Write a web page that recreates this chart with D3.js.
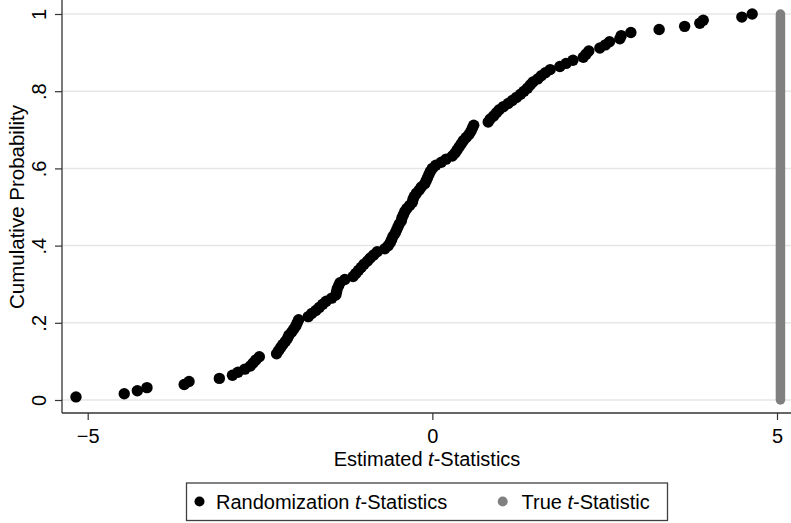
<!DOCTYPE html>
<html><head><meta charset="utf-8">
<script src="https://cdn.jsdelivr.net/npm/d3@7"></script>
<style>
html,body{margin:0;padding:0;background:#fff;}
svg{display:block;font-family:"Liberation Sans",Arial,Helvetica,sans-serif;}
</style></head>
<body><svg id="c" width="791" height="523"></svg>
<script>
// Randomization t-statistics (sorted)
const randT = [
-5.17,-4.47,-4.28,-4.14,-3.60,-3.53,-3.09,-2.90,-2.82,-2.72,
-2.64,-2.60,-2.56,-2.51,-2.26,-2.23,-2.20,-2.17,-2.13,-2.10,
-2.08,-2.04,-2.01,-1.98,-1.96,-1.94,-1.80,-1.75,-1.69,-1.64,
-1.59,-1.54,-1.46,-1.40,-1.39,-1.38,-1.36,-1.34,-1.27,-1.15,
-1.11,-1.07,-1.03,-0.99,-0.94,-0.90,-0.85,-0.80,-0.69,-0.64,
-0.61,-0.59,-0.57,-0.54,-0.52,-0.50,-0.48,-0.45,-0.44,-0.42,
-0.40,-0.37,-0.33,-0.29,-0.28,-0.26,-0.23,-0.19,-0.16,-0.11,
-0.09,-0.07,-0.05,-0.03,0.00,0.05,0.13,0.20,0.29,0.33,
0.36,0.39,0.42,0.45,0.49,0.53,0.56,0.58,0.60,0.81,
0.84,0.89,0.93,0.97,1.03,1.10,1.16,1.22,1.28,1.33,
1.38,1.42,1.46,1.53,1.58,1.64,1.71,1.85,1.94,2.04,
2.19,2.23,2.27,2.43,2.51,2.57,2.72,2.74,2.88,3.29,
3.66,3.88,3.93,4.49,4.64
];
const trueT = 5.05;
const trueRange = [0, 1];
const xTickVals = [-5, 0, 5];
const xTickLabels = ["\u22125", "0", "5"];
const yTickVals = [0, 0.2, 0.4, 0.6, 0.8, 1];
const yTickLabels = ["0", ".2", ".4", ".6", ".8", "1"];
const legendLabels = [["Randomization ", "t", "-Statistics"], ["True ", "t", "-Statistic"]];
const colors = ["#000000", "#808080"];

const svg = d3.select("#c");
const axisX = 62, axisY = 413;
const x = d3.scaleLinear().domain([-5, 5]).range([87.7, 777]);
const y = d3.scaleLinear().domain([0, 1]).range([400, 14]);

// gridlines
svg.append("g").selectAll("line").data(yTickVals).join("line")
  .attr("x1", axisX).attr("x2", 791)
  .attr("y1", d => y(d)).attr("y2", d => y(d))
  .attr("stroke", "#e6e6e6").attr("stroke-width", 1.5);

// y axis
const yAx = svg.append("g").attr("transform", `translate(${axisX},0)`)
  .call(d3.axisLeft(y).tickValues(yTickVals).tickSize(7).tickFormat((d, i) => yTickLabels[i]));
yAx.select(".domain").remove();
yAx.selectAll(".tick line").attr("stroke", "#333").attr("stroke-width", 1.2);
yAx.selectAll(".tick text")
  .attr("x", 0).attr("y", -16).attr("dy", 0)
  .attr("transform", "rotate(-90)")
  .attr("text-anchor", "middle")
  .attr("font-size", 20).attr("fill", "#000")
  .style("font-family", "'Liberation Sans',Arial,sans-serif");
svg.append("line").attr("x1", axisX).attr("x2", axisX).attr("y1", 0).attr("y2", axisY)
  .attr("stroke", "#333").attr("stroke-width", 1.3);

// x axis
const xAx = svg.append("g").attr("transform", `translate(0,${axisY})`)
  .call(d3.axisBottom(x).tickValues(xTickVals).tickSize(7).tickFormat((d, i) => xTickLabels[i]));
xAx.select(".domain").remove();
xAx.selectAll(".tick line").attr("stroke", "#333").attr("stroke-width", 1.2);
xAx.selectAll(".tick text").attr("y", 30).attr("dy", 0)
  .attr("font-size", 20).attr("fill", "#000")
  .style("font-family", "'Liberation Sans',Arial,sans-serif");
svg.append("line").attr("x1", axisX).attr("x2", 791).attr("y1", axisY).attr("y2", axisY)
  .attr("stroke", "#333").attr("stroke-width", 1.3);

// axis titles
const xt = svg.append("text").attr("x", 427).attr("y", 466).attr("text-anchor", "middle")
  .attr("font-size", 20).attr("fill", "#000");
xt.append("tspan").text("Estimated ");
xt.append("tspan").attr("font-style", "italic").text("t");
xt.append("tspan").text("-Statistics");

svg.append("text").attr("transform", "translate(23.5,207) rotate(-90)")
  .attr("text-anchor", "middle").attr("font-size", 20.5).attr("fill", "#000")
  .text("Cumulative Probability");

// true t-statistic
svg.append("path")
  .attr("d", d3.line()(trueRange.map(p => [x(trueT), y(p)])))
  .attr("stroke", colors[1]).attr("stroke-width", 9.5).attr("stroke-linecap", "round").attr("fill", "none");

// randomization points (empirical CDF)
const N = randT.length;
svg.append("g").selectAll("circle").data(randT).join("circle")
  .attr("cx", d => x(d)).attr("cy", (d, i) => y((i + 1) / N))
  .attr("r", 5.7).attr("fill", colors[0]);

// legend
const lg = svg.append("g");
lg.append("rect").attr("x", 186.5).attr("y", 483).attr("width", 481).attr("height", 37.5)
  .attr("fill", "#fff").attr("stroke", "#404040").attr("stroke-width", 1.3);
const items = [{cx: 199.5, tx: 216}, {cx: 502.7, tx: 521.5}];
items.forEach((it, i) => {
  lg.append("circle").attr("cx", it.cx).attr("cy", 501.5).attr("r", 5).attr("fill", colors[i]);
  const t = lg.append("text").attr("x", it.tx).attr("y", 509).attr("font-size", 20).attr("fill", "#000");
  t.append("tspan").text(legendLabels[i][0]);
  t.append("tspan").attr("font-style", "italic").text(legendLabels[i][1]);
  t.append("tspan").text(legendLabels[i][2]);
});
</script></body></html>
